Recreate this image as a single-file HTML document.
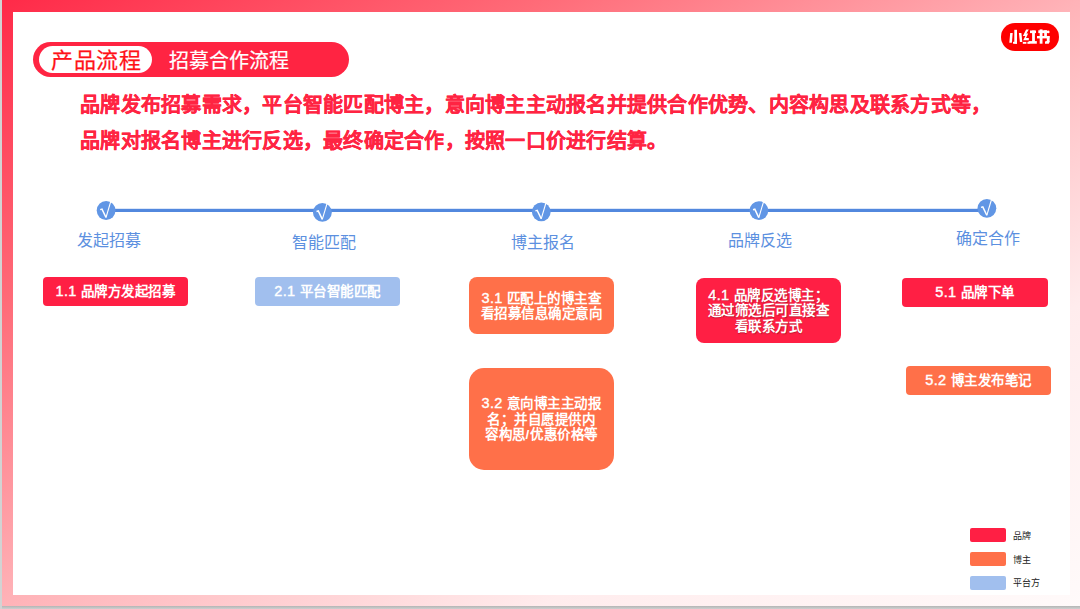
<!DOCTYPE html>
<html lang="zh-CN">
<head>
<meta charset="utf-8">
<style>
*{margin:0;padding:0;box-sizing:border-box}
html,body{width:1080px;height:609px;overflow:hidden;background:#d2d3d3;font-family:"Liberation Sans",sans-serif}
#slide{position:absolute;left:2px;top:0;width:1080px;height:606px;
 background:linear-gradient(to bottom right,#ff2a48 0%,#ff6b78 25%,#ffb3b8 50%,#ffeced 75%,#fffafa 100%)}
#shadow{position:absolute;left:2px;top:606px;width:1080px;height:3px;background:linear-gradient(#b4b5b5,#cfd0d0)}
#inner{position:absolute;left:13px;top:12px;width:1057px;height:583px;background:#fff}
.abs{position:absolute}
#pill{left:33px;top:41.5px;width:316px;height:35px;border-radius:17.5px;background:#ff2442}
#pillw{left:39px;top:46px;width:113px;height:27px;border-radius:14px;background:#fff}
#t1{left:51px;top:46px;letter-spacing:0.5px;font-size:22px;line-height:30px;color:#ff1218;-webkit-text-stroke:0.25px #ff1218;white-space:nowrap}
#t2{left:169px;top:46px;font-size:20px;line-height:30px;color:#fff;-webkit-text-stroke:0.2px #fff;white-space:nowrap}
.body{left:80px;font-size:20px;font-weight:bold;color:#ff2442;white-space:nowrap;line-height:24px;letter-spacing:0.25px;-webkit-text-stroke:0.3px #ff2442}
.lab{font-size:16px;color:#5c90e0;white-space:nowrap;line-height:20px;width:120px;text-align:center}
.box{color:#fff;font-weight:bold;font-size:13.5px;line-height:15.5px;padding-top:1px;letter-spacing:0.5px;text-align:center;display:flex;align-items:center;justify-content:center;white-space:nowrap}
.n{font-weight:normal;font-size:14.5px;-webkit-text-stroke:0.4px #fff;letter-spacing:0.3px}
.red{background:#ff1f44}
.org{background:#ff7049}
.blu{background:#a1bfee}
.sw{left:970px;width:35.6px;height:14px;border-radius:2px}
.lg{left:1013px;font-size:9px;color:#222;line-height:14px;white-space:nowrap}
</style>
</head>
<body>
<div id="slide"></div>
<div id="shadow"></div>
<div id="inner"></div>

<div class="abs" id="pill"></div>
<div class="abs" id="pillw"></div>
<div class="abs" id="t1">产品流程</div>
<div class="abs" id="t2">招募合作流程</div>
<svg class="abs" style="left:0;top:0" width="1080" height="60" viewBox="0 0 1080 60">
<rect x="1001" y="23" width="58" height="28" rx="14" fill="#fe0000"/>
<g fill="#fff">
<polygon points="1010.2,33.0 1012.7,33.0 1011.9,42.8 1009.3,42.8"/>
<rect x="1014.3" y="29.8" width="2.7" height="13.9"/>
<rect x="1013.0" y="41.8" width="4.0" height="1.9"/>
<polygon points="1018.9,33.0 1021.4,33.0 1022.3,42.0 1019.9,42.0"/>
<polygon points="1026.1,29.6 1028.8,29.6 1026.4,33.6 1028.2,33.6 1026.0,38.0 1028.8,38.0 1028.8,40.2 1023.2,40.2 1025.4,35.9 1022.9,35.9"/>
<rect x="1022.8" y="41.9" width="3.6" height="1.9"/>
<rect x="1027.4" y="41.9" width="2.2" height="1.9"/>
<rect x="1030.0" y="30.5" width="6.0" height="2.6"/>
<rect x="1032.1" y="30.5" width="2.8" height="12"/>
<rect x="1028.6" y="41.1" width="8.2" height="2.6"/>
<rect x="1039.7" y="29.4" width="2.8" height="14.3"/>
<rect x="1038.3" y="30.3" width="8.6" height="2.8"/>
<rect x="1044.2" y="30.3" width="2.7" height="6.5"/>
<rect x="1037.0" y="36.0" width="12.5" height="2.4"/>
<rect x="1046.8" y="36.0" width="2.8" height="6.4"/>
<polygon points="1046.6,41.0 1049.6,41.0 1048.8,43.8 1045.0,43.8 1045.0,41.6"/>
<circle cx="1048.2" cy="31.9" r="1.4"/>
</g>
</svg>


<div class="abs body" style="top:92.5px">品牌发布招募需求，平台智能匹配博主，意向博主主动报名并提供合作优势、内容构思及联系方式等，</div>
<div class="abs body" style="top:129px">品牌对报名博主进行反选，最终确定合作，按照一口价进行结算。</div>

<svg class="abs" style="left:0;top:0" width="1080" height="260" viewBox="0 0 1080 260">
<rect x="106" y="208.8" width="881" height="3.2" fill="#5288de"/>
<circle cx="106.1" cy="210.5" r="9.4" fill="#6196e5"/>
<path d="M100.2 209.6 L102.0 209.1 L106.0 217.5" stroke="#fff" stroke-width="1.5" fill="none"/>
<path d="M106.0 217.5 L110.7 201.7" stroke="#fff" stroke-width="1.1" fill="none"/>
<circle cx="322.4" cy="212.4" r="9.4" fill="#6196e5"/>
<path d="M316.5 211.5 L318.3 211.0 L322.3 219.4" stroke="#fff" stroke-width="1.5" fill="none"/>
<path d="M322.3 219.4 L327.0 203.6" stroke="#fff" stroke-width="1.1" fill="none"/>
<circle cx="541.3" cy="211.8" r="9.4" fill="#6196e5"/>
<path d="M535.4 210.9 L537.2 210.4 L541.2 218.8" stroke="#fff" stroke-width="1.5" fill="none"/>
<path d="M541.2 218.8 L545.9 203.0" stroke="#fff" stroke-width="1.1" fill="none"/>
<circle cx="758.9" cy="210.6" r="9.4" fill="#6196e5"/>
<path d="M753.0 209.7 L754.8 209.2 L758.8 217.6" stroke="#fff" stroke-width="1.5" fill="none"/>
<path d="M758.8 217.6 L763.5 201.8" stroke="#fff" stroke-width="1.1" fill="none"/>
<circle cx="986.9" cy="208.3" r="9.4" fill="#6196e5"/>
<path d="M981.0 207.4 L982.8 206.9 L986.8 215.3" stroke="#fff" stroke-width="1.5" fill="none"/>
<path d="M986.8 215.3 L991.5 199.5" stroke="#fff" stroke-width="1.1" fill="none"/>
</svg>

<div class="abs lab" style="left:49px;top:231px">发起招募</div>
<div class="abs lab" style="left:264px;top:233px">智能匹配</div>
<div class="abs lab" style="left:483px;top:232.5px">博主报名</div>
<div class="abs lab" style="left:700px;top:231px">品牌反选</div>
<div class="abs lab" style="left:928px;top:228.5px">确定合作</div>

<div class="abs box red" style="left:43px;top:277px;width:145px;height:29px;border-radius:4px"><div><span class="n">1.1</span> 品牌方发起招募</div></div>
<div class="abs box blu" style="left:255px;top:277px;width:145px;height:29px;border-radius:4px"><div><span class="n">2.1</span> 平台智能匹配</div></div>
<div class="abs box org" style="left:469px;top:277px;width:145px;height:57px;border-radius:8px"><div><span class="n">3.1</span> 匹配上的博主查<br>看招募信息确定意向</div></div>
<div class="abs box red" style="left:695.5px;top:278px;width:145.5px;height:64.5px;border-radius:8px;text-shadow:0.8px 0.8px 0.8px rgba(80,0,0,0.35)"><div><span class="n">4.1</span> 品牌反选博主；<br>通过筛选后可直接查<br>看联系方式</div></div>
<div class="abs box red" style="left:902px;top:278px;width:146px;height:29px;border-radius:4px"><div><span class="n">5.1</span> 品牌下单</div></div>
<div class="abs box org" style="left:469px;top:368px;width:145px;height:101.5px;border-radius:15px"><div><span class="n">3.2</span> 意向博主主动报<br>名；并自愿提供内<br>容构思<span style="letter-spacing:1px">/</span>优惠价格等</div></div>
<div class="abs box org" style="left:906px;top:366px;width:145px;height:29px;border-radius:4px"><div><span class="n">5.2</span> 博主发布笔记</div></div>

<div class="abs sw red" style="top:528px"></div>
<div class="abs sw org" style="top:552px"></div>
<div class="abs sw blu" style="top:576px"></div>
<div class="abs lg" style="top:529px">品牌</div>
<div class="abs lg" style="top:553px">博主</div>
<div class="abs lg" style="top:575.8px">平台方</div>
</body>
</html>
